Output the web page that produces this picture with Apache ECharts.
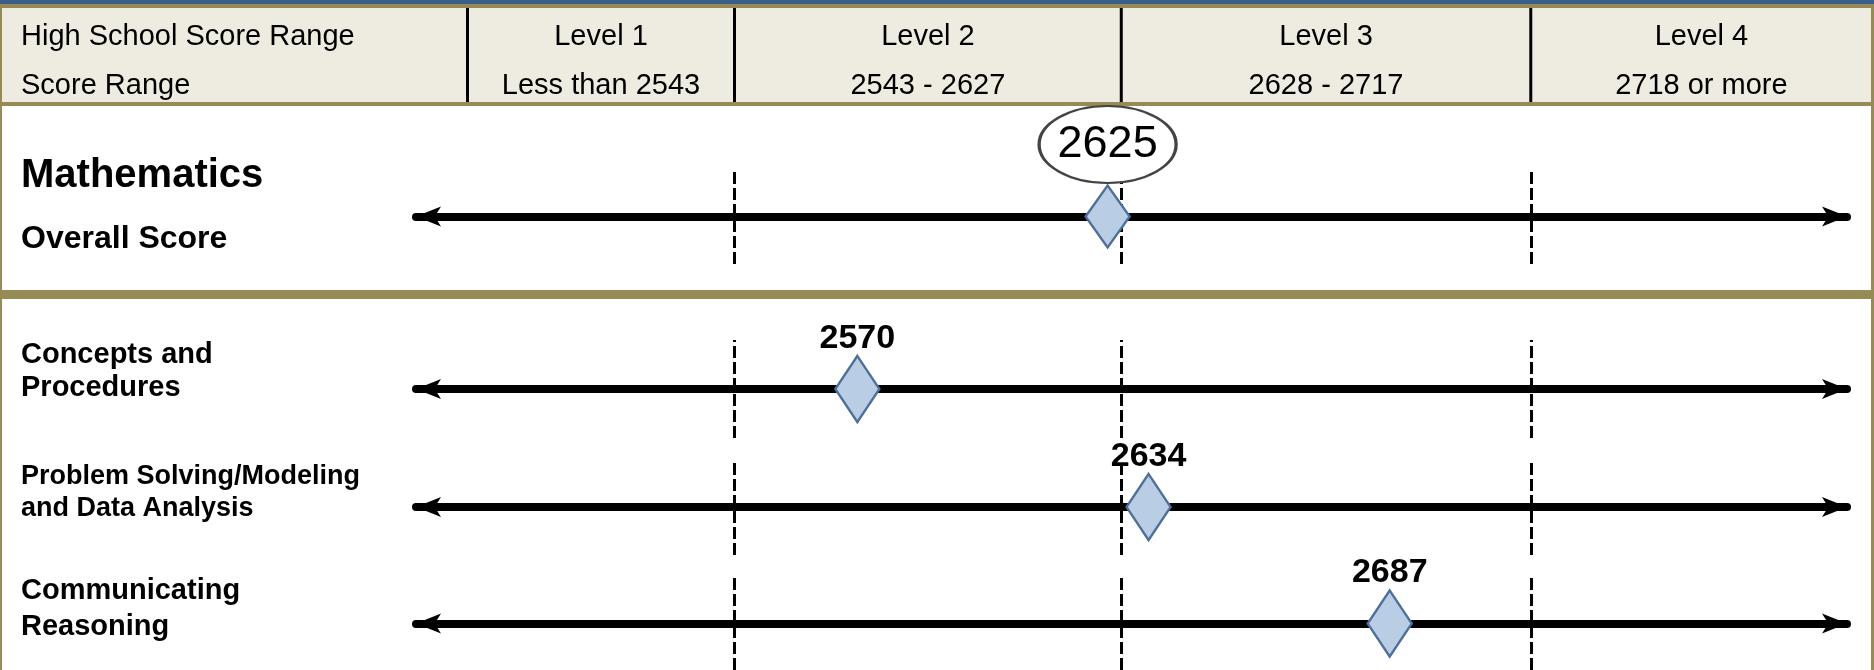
<!DOCTYPE html>
<html>
<head>
<meta charset="utf-8">
<title>Score Report</title>
<script src="https://cdn.jsdelivr.net/npm/echarts@6/dist/echarts.min.js"></script>
<style>
    html, body {margin: 0; padding: 0; background: #fff;}
    #main {width: 1874px; height: 670px;}
</style>
</head>
<body>
<div id="main"></div>
<script>
// data
var levelNames = ['Level 1', 'Level 2', 'Level 3', 'Level 4'];
var levelRanges = ['Less than 2543', '2543 - 2627', '2628 - 2717', '2718 or more'];
var cutScores = [2543, 2628, 2718];
var rowTitles = ['Mathematics', 'Concepts and', 'Problem Solving/Modeling', 'Communicating'];
var rowSubtitles = ['Overall Score', 'Procedures', 'and Data Analysis', 'Reasoning'];
var scores = [2625, 2570, 2634, 2687];

// layout
var scaleMin = 2473, scaleMax = 2787.5;
var font = '"Liberation Sans", Arial, sans-serif';
var gold = '#978b55';
var rows = [
    {top: 169, height: 95, titleY: 176, subY: 239, titleSize: 40, subSize: 32},
    {top: 340, height: 98, titleY: 355, subY: 388, titleSize: 29, subSize: 29},
    {top: 459, height: 96, titleY: 477, subY: 509, titleSize: 27, subSize: 27},
    {top: 577, height: 98, titleY: 591, subY: 627, titleSize: 29, subSize: 29}
];

var chart = echarts.init(document.getElementById('main'), null, {renderer: 'canvas'});

var grids = [], xAxes = [], yAxes = [], series = [];
rows.forEach(function (r, i) {
    grids.push({left: 416, right: 27, top: r.top, height: r.height});
    xAxes.push({
        type: 'value', gridIndex: i, min: scaleMin, max: scaleMax,
        axisLine: {
            show: true, onZero: true,
            symbol: ['arrow', 'arrow'], symbolSize: [15, 25],
            lineStyle: {color: '#000', width: 8}
        },
        axisTick: {show: false}, axisLabel: {show: false}, splitLine: {show: false}
    });
    yAxes.push({
        type: 'value', gridIndex: i, min: -1, max: 1, show: false
    });
    series.push({
        type: 'scatter', xAxisIndex: i, yAxisIndex: i, z: 3,
        data: [[scores[i], 0]],
        symbol: 'diamond',
        symbolSize: i === 0 ? [44, 62] : [44, 66],
        itemStyle: {color: '#b9cde5', borderColor: '#4d6f99', borderWidth: 2.5, opacity: 1},
        label: {
            show: i !== 0, position: 'top', distance: -1,
            formatter: function (p) { return p.value[0]; },
            fontSize: 34, fontWeight: 'bold', color: '#000', fontFamily: font
        },
        emphasis: {disabled: true},
        markLine: {
            silent: true, z: 1, symbol: ['none', 'none'],
            label: {show: false},
            lineStyle: {type: [12, 4], width: 3, color: '#000'},
            emphasis: {disabled: true},
            data: cutScores.map(function (v) { return {xAxis: v}; })
        }
    });
});

// overall score bubble
series.push({
    type: 'scatter', xAxisIndex: 0, yAxisIndex: 0, z: 4,
    data: [[scores[0], 0]],
    symbol: 'circle', symbolSize: [137, 77], symbolOffset: [0, -72],
    itemStyle: {color: '#fff', borderColor: '#444', borderWidth: 2.5, opacity: 1},
    label: {
        show: true, position: 'inside',
        formatter: function (p) { return p.value[0]; },
        fontSize: 45, color: '#000', fontFamily: font
    },
    emphasis: {disabled: true}
});

chart.setOption({
    animation: false,
    backgroundColor: '#fff',
    grid: grids,
    xAxis: xAxes,
    yAxis: yAxes,
    series: series
});

// table frame, placed on the same scale as the axes
var cutX = cutScores.map(function (v) {
    return chart.convertToPixel({xAxisIndex: 0}, v);
});
var colEdges = [467.5].concat(cutX).concat([1872]);

var g = [
    {type: 'rect', shape: {x: 0, y: 8, width: 1874, height: 94}, style: {fill: '#eeebe0'}},
    {type: 'rect', shape: {x: 0, y: 0, width: 1874, height: 4}, style: {fill: '#3a5f8c'}},
    {type: 'rect', shape: {x: 0, y: 4, width: 1874, height: 4}, style: {fill: gold}},
    {type: 'rect', shape: {x: 0, y: 102, width: 1874, height: 4}, style: {fill: gold}},
    {type: 'rect', shape: {x: 0, y: 290, width: 1874, height: 9}, style: {fill: gold}},
    {type: 'rect', shape: {x: 0, y: 8, width: 2, height: 662}, style: {fill: gold}},
    {type: 'rect', shape: {x: 1871, y: 8, width: 3, height: 662}, style: {fill: gold}},
    {type: 'text', x: 21, y: 37, style: {text: 'High School Score Range', font: '29px ' + font, fill: '#000', textVerticalAlign: 'middle'}},
    {type: 'text', x: 21, y: 86, style: {text: 'Score Range', font: '29px ' + font, fill: '#000', textVerticalAlign: 'middle'}}
];
for (var k = 0; k < 4; k++) {
    g.push({type: 'line', shape: {x1: colEdges[k], y1: 8, x2: colEdges[k], y2: 102}, style: {stroke: '#000', lineWidth: 3}});
    var cx = (colEdges[k] + colEdges[k + 1]) / 2;
    g.push({type: 'text', x: cx, y: 37, style: {text: levelNames[k], font: '29px ' + font, fill: '#000', textAlign: 'center', textVerticalAlign: 'middle'}});
    g.push({type: 'text', x: cx, y: 86, style: {text: levelRanges[k], font: '29px ' + font, fill: '#000', textAlign: 'center', textVerticalAlign: 'middle'}});
}
rows.forEach(function (r, i) {
    g.push({type: 'text', x: 21, y: r.titleY, style: {text: rowTitles[i], font: 'bold ' + r.titleSize + 'px ' + font, fill: '#000', textVerticalAlign: 'middle'}});
    g.push({type: 'text', x: 21, y: r.subY, style: {text: rowSubtitles[i], font: 'bold ' + r.subSize + 'px ' + font, fill: '#000', textVerticalAlign: 'middle'}});
});

chart.setOption({graphic: g});
</script>
</body>
</html>
